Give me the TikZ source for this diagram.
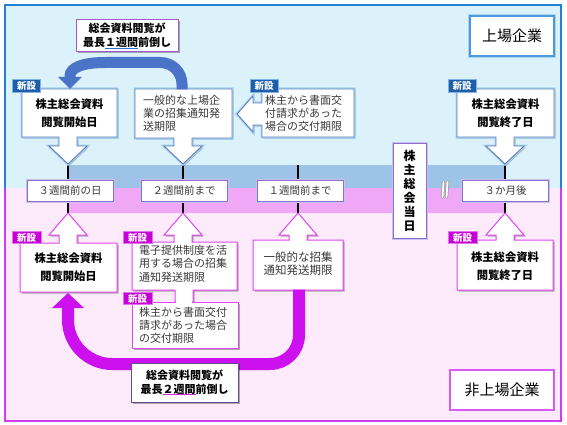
\documentclass[tikz,border=0pt]{standalone}
\usepackage{fontspec}
\setmainfont{Noto Sans CJK JP}
\usetikzlibrary{arrows.meta,shadows}
\definecolor{bgup}{HTML}{DCF2FA}
\definecolor{bgdn}{HTML}{FDEBFC}
\definecolor{bandblue}{HTML}{9DC3E6}
\definecolor{bandpink}{HTML}{F0A8F6}
\definecolor{frameblue}{HTML}{1F82D6}
\definecolor{framepink}{HTML}{D23CF5}
\definecolor{upedge}{HTML}{5B7DB8}
\definecolor{glowb}{HTML}{A9D2F2}
\definecolor{dnedge}{HTML}{E046F0}
\definecolor{lbledge}{HTML}{8A6FCC}
\definecolor{glowp}{HTML}{C9C0F0}
\definecolor{arrblue}{HTML}{4A74C8}
\definecolor{arrmag}{HTML}{CC11EE}
\definecolor{badgeblue}{HTML}{1F5FAA}
\definecolor{badgeblueedge}{HTML}{7FB2E5}
\definecolor{badgemag}{HTML}{C800D8}
\definecolor{txtgray}{HTML}{3A3A3A}
\definecolor{ulblue}{HTML}{2070D0}
\definecolor{ulmag}{HTML}{D020E0}
\newcommand\myul[2]{\setbox0\hbox{#2}\rlap{\textcolor{#1}{\rule[-2pt]{\wd0}{0.9pt}}}\box0}
\tikzset{
  shad/.style={drop shadow={shadow xshift=1.5pt,shadow yshift=-1.5pt,opacity=0.3,fill=black}},
  upbox/.style={shad, preaction={draw=glowb,line width=3pt}, fill=white, draw=upedge, line width=0.9pt},
  dnbox/.style={shad, fill=white, draw=dnedge, line width=1pt},
  bandlbl/.style={shad, preaction={draw=glowp,line width=3pt}, fill=white, draw=lbledge, line width=0.9pt,
     minimum width=86pt, minimum height=21pt, inner sep=0pt, text=txtgray, font=\fontsize{10.5}{12}\selectfont},
  txt/.style={inner sep=0pt, text=txtgray, font=\fontsize{11}{13}\selectfont, align=left},
  btxt/.style={inner sep=0pt, text=black, font=\bfseries\fontsize{11.3}{18}\selectfont, align=center},
  arrlbl/.style={shad, fill=white, draw=#1, line width=1pt, inner sep=0pt, align=center,
     font=\bfseries\fontsize{11}{14}\selectfont},
  corp/.style={fill=white, line width=1.2pt, inner sep=0pt, minimum height=40pt, font=\fontsize{15}{16}\selectfont},
  badgeb/.style={fill=badgeblue, draw=badgeblueedge, line width=0.8pt, text=white,
     font=\bfseries\fontsize{9.5}{10}\selectfont, inner sep=0pt, minimum width=28pt, minimum height=13pt},
  badgem/.style={fill=badgemag, draw=badgemag!55!white, line width=0.6pt, text=white,
     font=\bfseries\fontsize{9.5}{10}\selectfont, inner sep=0pt, minimum width=29pt, minimum height=12pt},
  tick/.style={line width=2.4pt, draw=black},
}
\begin{document}
\begin{tikzpicture}[x=1pt,y=-1pt]
\useasboundingbox (0,0) rectangle (567,425);
\fill[white] (0,0) rectangle (567,425);
% backgrounds
\fill[bgup] (5,5) rectangle (561,188);
\fill[bgdn] (5,188) rectangle (561,421);
\draw[frameblue, line width=2.5pt] (5,188) -- (5,5) -- (561,5) -- (561,188);
\draw[framepink, line width=2.5pt] (5,188) -- (5,421) -- (561,421) -- (561,188);
% bands
\fill[bandblue] (68,165) rectangle (505,188);
\fill[bandpink] (68,188) rectangle (505,213);
% ticks
\draw[tick] (68,160) -- (68,213);
\draw[tick] (183,160) -- (183,213);
\draw[tick] (298,165) -- (298,213);
\draw[tick] (505,160) -- (505,213);
% upper callouts
\draw[upbox] (22,89) -- (117,89) -- (117,137) -- (77,137) -- (77,146) -- (87,146) -- (68,164)
   -- (49,146) -- (59,146) -- (59,137) -- (22,137) -- cycle;
\draw[upbox] (135,89) -- (232,89) -- (232,138) -- (192,138) -- (192,146) -- (202,146) -- (183,164)
   -- (164,146) -- (174,146) -- (174,138) -- (135,138) -- cycle;
\draw[upbox] (262,89) -- (354,89) -- (354,137) -- (262,137) -- (262,125) -- (253,125) -- (253,132)
   -- (237,114) -- (253,96) -- (253,103) -- (262,103) -- cycle;
\draw[upbox] (457,89) -- (554,89) -- (554,137) -- (514,137) -- (514,146) -- (524,146) -- (505,164)
   -- (486,146) -- (496,146) -- (496,137) -- (457,137) -- cycle;
\node[btxt] (u1) at (69.5,113) {株主総会資料\\閲覧開始日};
\node[txt, anchor=west] (u2) at (143,113.5) {一般的な上場企\\業の招集通知発\\送期限};
\node[txt, anchor=west] (u3) at (265,113) {株主から書面交\\付請求があった\\場合の交付期限};
\node[btxt] (u4) at (505.5,113) {株主総会資料\\閲覧終了日};
% lower callouts
\draw[dnbox] (20,292) -- (117,292) -- (117,243) -- (77,243) -- (77,235) -- (87,235) -- (68,213)
   -- (49,235) -- (59,235) -- (59,243) -- (20,243) -- cycle;
\draw[dnbox] (132,242) -- (174,242) -- (174,235) -- (164,235) -- (183,213) -- (202,235) -- (192,235)
   -- (192,242) -- (237,242) -- (237,290) -- (193,290) -- (193,302) -- (175,302) -- (175,290)
   -- (132,290) -- cycle;
\draw[dnbox] (132,302) rectangle (238,348);
\fill[white] (176,300) rectangle (192,303.5);
\draw[dnbox] (253,290) -- (343,290) -- (343,240) -- (307,240) -- (307,235) -- (317,235) -- (298,213)
   -- (279,235) -- (289,235) -- (289,240) -- (253,240) -- cycle;
\draw[dnbox] (457,290) -- (553,290) -- (553,240) -- (514,240) -- (514,235) -- (524,235) -- (505,213)
   -- (486,235) -- (496,235) -- (496,240) -- (457,240) -- cycle;
\node[btxt] (l1) at (68.5,267.5) {株主総会資料\\閲覧開始日};
\node[txt, anchor=west, font=\fontsize{11}{13.5}\selectfont] (l2) at (139,263.5) {電子提供制度を活\\用する場合の招集\\通知発送期限};
\node[txt, anchor=west, font=\fontsize{11}{13}\selectfont] (l2b) at (139,325.5) {株主から書面交付\\請求があった場合\\の交付期限};
\node[txt, font=\fontsize{11.5}{12.5}\selectfont] (l3) at (298,263.5) {一般的な招集\\通知発送期限};
\node[btxt] (l4) at (505,266) {株主総会資料\\閲覧終了日};
% band labels
\node[bandlbl] (w3) at (70,190.5) {３週間前の日};
\node[bandlbl] (w2) at (184,190.5) {２週間前まで};
\node[bandlbl] (w1) at (300,190.5) {１週間前まで};
\node[bandlbl] (m3) at (505.5,190.5) {３か月後};
\node[shad, preaction={draw=glowp,line width=3pt}, fill=white, draw=lbledge, line width=0.9pt,
   minimum width=33pt, minimum height=95pt, inner sep=0pt, align=center,
   font=\bfseries\fontsize{12}{14}\selectfont] (day) at (409.5,190.5) {株\\主\\総\\会\\当\\日};
% break mark
\draw[line width=3.4pt, draw=gray!75, line cap=round] (442.5,197) -- (443.5,182);
\draw[line width=1.8pt, draw=white, line cap=round] (442.5,197) -- (443.5,182);
\draw[line width=3.4pt, draw=gray!75, line cap=round] (446.5,197) -- (447.5,182);
\draw[line width=1.8pt, draw=white, line cap=round] (446.5,197) -- (447.5,182);
% curved arrows
\coordinate (bs) at (182,89.5);
\coordinate (be) at (70,89);
\draw[arrblue, line width=11pt, -{Triangle[length=12pt,width=23pt]}]
  (bs) -- (182,84.5) .. controls (182,72.4) and (172.9,62.5) .. (160,62.5) -- (105,62.5)
  .. controls (82,62.5) and (70,68) .. (70,76) -- (be);
\coordinate (ms) at (299,289.5);
\coordinate (me) at (68,293);
\draw[arrmag, line width=12pt, -{Triangle[length=15pt,width=31pt]}]
  (ms) -- (299,335) .. controls (299,351) and (286,364) .. (270,364) -- (112,364)
  .. controls (88,364) and (68,344) .. (68,320) -- (me);
% arrow labels
\node[arrlbl=lbledge!80!magenta, minimum width=102pt, minimum height=32pt] (lab1) at (127,36)
  {総会資料閲覧が\\最長\myul{ulblue}{１週間}前倒し};
\node[arrlbl=lbledge!70!black, minimum width=107pt, minimum height=39pt] (lab2) at (184.5,382.5)
  {総会資料閲覧が\\最長\myul{ulmag}{２週間}前倒し};
% corporation labels
\node[corp, preaction={draw=glowb,line width=3.5pt}, draw=frameblue!80, minimum width=84pt] (jo) at (512,36) {上場企業};
\node[corp, draw=framepink!85, minimum width=104pt] (hijo) at (502,390) {非上場企業};
% badges
\node[badgeb] (b1) at (26.5,86) {新設};
\node[badgeb] (b2) at (264,86) {新設};
\node[badgeb] (b3) at (462,86) {新設};
\node[badgem] (m1) at (26.5,237.5) {新設};
\node[badgem] (m2) at (137.5,237.5) {新設};
\node[badgem] (m4) at (137.5,298.5) {新設};
\node[badgem] (m5) at (462.5,237.5) {新設};
\end{tikzpicture}
\end{document}
